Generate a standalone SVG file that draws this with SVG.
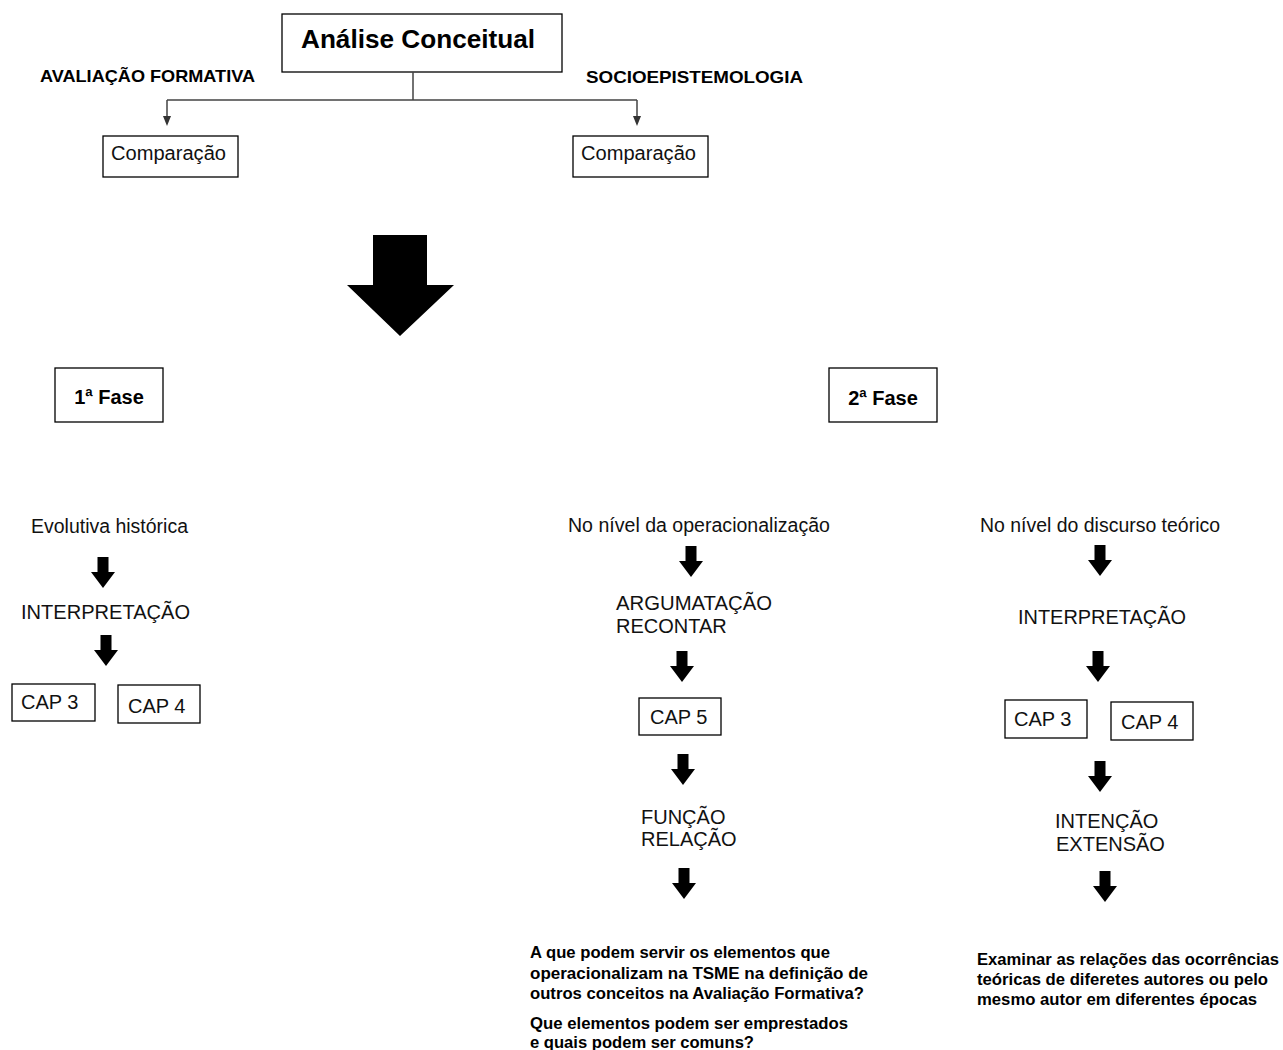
<svg xmlns="http://www.w3.org/2000/svg" width="1283" height="1050" viewBox="0 0 1283 1050">
  <defs>
    <path id="down" d="M-5.5,0 H5.5 V15 H12 L0,31 L-12,15 H-5.5 Z" fill="#000"/>
  </defs>
  <style>
    .box { fill: #fff; stroke: #000; stroke-width: 1.3; }
    .t { font-family: "Liberation Sans", Arial, sans-serif; font-size: 20px; fill: #111; }
    .b { font-family: "Liberation Sans", Arial, sans-serif; font-weight: bold; fill: #000; }
    .link { fill: none; stroke: #444; stroke-width: 1.5; }
    .head { fill: #333; }
  </style>
  <rect width="1283" height="1050" fill="#fff"/>

  <!-- root concept -->
  <g id="analise">
    <rect class="box" x="282" y="14" width="280" height="58"/>
    <text class="b" x="418" y="48" font-size="26" text-anchor="middle" textLength="234" lengthAdjust="spacingAndGlyphs">Análise Conceitual</text>
  </g>

  <g id="labels-top">
    <text class="b" x="40" y="82" font-size="17" textLength="215" lengthAdjust="spacingAndGlyphs">AVALIAÇÃO FORMATIVA</text>
    <text class="b" x="586" y="83" font-size="17" textLength="217" lengthAdjust="spacingAndGlyphs">SOCIOEPISTEMOLOGIA</text>
  </g>

  <g id="comparacao-af">
    <rect class="box" x="103" y="136" width="135" height="41"/>
    <text class="t" x="111" y="160" textLength="115" lengthAdjust="spacingAndGlyphs">Comparação</text>
  </g>
  <g id="comparacao-soc">
    <rect class="box" x="573" y="136" width="135" height="41"/>
    <text class="t" x="581" y="160" textLength="115" lengthAdjust="spacingAndGlyphs">Comparação</text>
  </g>

  <!-- connectors -->
  <g id="connectors">
    <path class="link" d="M413,72 V100 M167,100 H637 M167,100 V117 M637,100 V117"/>
    <path class="head" d="M163,116 H171 L167,126 Z"/>
    <path class="head" d="M633,116 H641 L637,126 Z"/>
    <!-- large transition arrow -->
    <path d="M373,235 H427 V285 H454 L400,336 L347,285 H373 Z" fill="#000"/>
    <!-- step arrows -->
    <use href="#down" x="103" y="557"/>
    <use href="#down" x="106" y="635"/>
    <use href="#down" x="691" y="546"/>
    <use href="#down" x="682" y="651"/>
    <use href="#down" x="683" y="754"/>
    <use href="#down" x="684" y="868"/>
    <use href="#down" x="1100" y="545"/>
    <use href="#down" x="1098" y="651"/>
    <use href="#down" x="1100" y="761"/>
    <use href="#down" x="1105" y="871"/>
  </g>

  <!-- phases -->
  <g id="fase1">
    <rect class="box" x="55" y="368" width="108" height="54"/>
    <text class="b" x="109" y="404" font-size="20" text-anchor="middle">1ª Fase</text>
  </g>
  <g id="fase2">
    <rect class="box" x="829" y="368" width="108" height="54"/>
    <text class="b" x="883" y="405" font-size="20" text-anchor="middle">2ª Fase</text>
  </g>

  <!-- phase 1 column -->
  <g id="evolutiva">
    <text class="t" x="31" y="533" textLength="157" lengthAdjust="spacingAndGlyphs">Evolutiva histórica</text>
  </g>
  <g id="interpretacao-1">
    <text class="t" x="21" y="619" textLength="169" lengthAdjust="spacingAndGlyphs">INTERPRETAÇÃO</text>
  </g>
  <g id="cap3-1">
    <rect class="box" x="12" y="684" width="83" height="37"/>
    <text class="t" x="21" y="709">CAP 3</text>
  </g>
  <g id="cap4-1">
    <rect class="box" x="118" y="685" width="82" height="38"/>
    <text class="t" x="128" y="713">CAP 4</text>
  </g>

  <!-- operationalization column -->
  <g id="operacionalizacao">
    <text class="t" x="568" y="532" textLength="262" lengthAdjust="spacingAndGlyphs">No nível da operacionalização</text>
  </g>
  <g id="argumatacao">
    <text class="t" x="616" y="610" textLength="156" lengthAdjust="spacingAndGlyphs">ARGUMATAÇÃO</text>
    <text class="t" x="616" y="633">RECONTAR</text>
  </g>
  <g id="cap5">
    <rect class="box" x="639" y="698" width="82" height="37"/>
    <text class="t" x="650" y="724">CAP 5</text>
  </g>
  <g id="funcao">
    <text class="t" x="641" y="824">FUNÇÃO</text>
    <text class="t" x="641" y="846">RELAÇÃO</text>
  </g>
  <g id="perguntas">
    <text class="b" font-size="16" x="530" y="958" textLength="300" lengthAdjust="spacingAndGlyphs">A que podem servir os elementos que</text>
    <text class="b" font-size="16" x="530" y="979" textLength="338" lengthAdjust="spacingAndGlyphs">operacionalizam na TSME na definição de</text>
    <text class="b" font-size="16" x="530" y="999" textLength="334" lengthAdjust="spacingAndGlyphs">outros conceitos na Avaliação Formativa?</text>
    <text class="b" font-size="16" x="530" y="1029" textLength="318" lengthAdjust="spacingAndGlyphs">Que elementos podem ser emprestados</text>
    <text class="b" font-size="16" x="530" y="1048" textLength="224" lengthAdjust="spacingAndGlyphs">e quais podem ser comuns?</text>
  </g>

  <!-- theoretical discourse column -->
  <g id="discurso">
    <text class="t" x="980" y="532" textLength="240" lengthAdjust="spacingAndGlyphs">No nível do discurso teórico</text>
  </g>
  <g id="interpretacao-2">
    <text class="t" x="1018" y="624" textLength="168" lengthAdjust="spacingAndGlyphs">INTERPRETAÇÃO</text>
  </g>
  <g id="cap3-2">
    <rect class="box" x="1005" y="700" width="82" height="38"/>
    <text class="t" x="1014" y="726">CAP 3</text>
  </g>
  <g id="cap4-2">
    <rect class="box" x="1111" y="702" width="82" height="38"/>
    <text class="t" x="1121" y="729">CAP 4</text>
  </g>
  <g id="intencao">
    <text class="t" x="1055" y="828">INTENÇÃO</text>
    <text class="t" x="1056" y="851">EXTENSÃO</text>
  </g>
  <g id="examinar">
    <text class="b" font-size="16" x="977" y="965" textLength="302" lengthAdjust="spacingAndGlyphs">Examinar as relações das ocorrências</text>
    <text class="b" font-size="16" x="977" y="985" textLength="291" lengthAdjust="spacingAndGlyphs">teóricas de diferetes autores ou pelo</text>
    <text class="b" font-size="16" x="977" y="1005" textLength="280" lengthAdjust="spacingAndGlyphs">mesmo autor em diferentes épocas</text>
  </g>
</svg>
